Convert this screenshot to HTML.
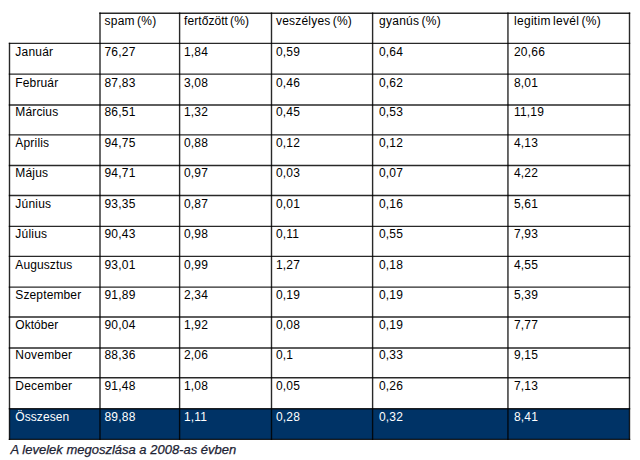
<!DOCTYPE html>
<html><head><meta charset="utf-8"><title>A levelek megoszlása a 2008-as évben</title>
<style>
html,body{margin:0;padding:0;background:#fff}
body{width:640px;height:460px;position:relative;overflow:hidden;font-family:"Liberation Sans",Arial,sans-serif;font-size:12px;color:#000}
svg{position:absolute;left:0;top:0}
.t{position:absolute;line-height:14px;white-space:nowrap}
.w{color:#fff}
.cap{position:absolute;font-style:italic;white-space:nowrap;line-height:16px;color:#1c2233;-webkit-text-stroke:0.25px #1c2233}
</style></head><body>

<svg width="640" height="460" viewBox="0 0 640 460">
<rect x="9.50" y="408.70" width="620.00" height="30.70" fill="#003366"/>
<path d="M99.30 13.30H630.20 M8.80 43.35H630.20 M8.80 74.10H630.20 M8.80 105.00H630.20 M8.80 134.85H630.20 M8.80 165.50H630.20 M8.80 195.50H630.20 M8.80 226.40H630.20 M8.80 256.35H630.20 M8.80 287.15H630.20 M8.80 317.00H630.20 M8.80 348.00H630.20 M8.80 377.80H630.20 M8.80 408.70H630.20 M8.80 439.40H630.20" stroke="#000" stroke-opacity="0.84" stroke-width="1.40" fill="none"/>
<path d="M9.50 42.65V440.10 M100.00 12.60V440.10 M179.60 12.60V440.10 M271.50 12.60V440.10 M372.60 12.60V440.10 M507.95 12.60V440.10 M629.50 12.60V440.10" stroke="#000" stroke-opacity="0.84" stroke-width="1.40" fill="none"/>
</svg>
<div class="t" style="left:104.5px;top:14px;letter-spacing:0.245px;word-spacing:-1.30px">spam (%)</div>
<div class="t" style="left:184px;top:14px;letter-spacing:0.073px;word-spacing:-1.30px">fertőzött (%)</div>
<div class="t" style="left:276px;top:14px;letter-spacing:0.201px;word-spacing:-1.30px">veszélyes (%)</div>
<div class="t" style="left:379px;top:14px;letter-spacing:0.261px;word-spacing:-1.30px">gyanús (%)</div>
<div class="t" style="left:514px;top:14px;letter-spacing:0.289px;word-spacing:-1.30px">legitim levél (%)</div>
<div class="t" style="left:15.3px;top:45px;letter-spacing:0.218px">Január</div>
<div class="t" style="left:104.5px;top:45px;letter-spacing:0.194px">76,27</div>
<div class="t" style="left:184px;top:45px;letter-spacing:0.161px">1,84</div>
<div class="t" style="left:276px;top:45px;letter-spacing:0.161px">0,59</div>
<div class="t" style="left:379px;top:45px;letter-spacing:0.161px">0,64</div>
<div class="t" style="left:514px;top:45px;letter-spacing:0.194px">20,66</div>
<div class="t" style="left:15.3px;top:76px;letter-spacing:0.140px">Február</div>
<div class="t" style="left:104.5px;top:76px;letter-spacing:0.194px">87,83</div>
<div class="t" style="left:184px;top:76px;letter-spacing:0.161px">3,08</div>
<div class="t" style="left:276px;top:76px;letter-spacing:0.161px">0,46</div>
<div class="t" style="left:379px;top:76px;letter-spacing:0.161px">0,62</div>
<div class="t" style="left:514px;top:76px;letter-spacing:0.161px">8,01</div>
<div class="t" style="left:15.3px;top:105px;letter-spacing:0.142px">Március</div>
<div class="t" style="left:104.5px;top:105px;letter-spacing:0.194px">86,51</div>
<div class="t" style="left:184px;top:105px;letter-spacing:0.161px">1,32</div>
<div class="t" style="left:276px;top:105px;letter-spacing:0.161px">0,45</div>
<div class="t" style="left:379px;top:105px;letter-spacing:0.161px">0,53</div>
<div class="t" style="left:514px;top:105px;letter-spacing:0.194px">11,19</div>
<div class="t" style="left:15.3px;top:136px;letter-spacing:0.190px;clip-path:inset(1px 0 0 0)">Április</div>
<div class="t" style="left:104.5px;top:136px;letter-spacing:0.194px">94,75</div>
<div class="t" style="left:184px;top:136px;letter-spacing:0.161px">0,88</div>
<div class="t" style="left:276px;top:136px;letter-spacing:0.161px">0,12</div>
<div class="t" style="left:379px;top:136px;letter-spacing:0.161px">0,12</div>
<div class="t" style="left:514px;top:136px;letter-spacing:0.161px">4,13</div>
<div class="t" style="left:15.3px;top:166px;letter-spacing:0.198px">Május</div>
<div class="t" style="left:104.5px;top:166px;letter-spacing:0.194px">94,71</div>
<div class="t" style="left:184px;top:166px;letter-spacing:0.161px">0,97</div>
<div class="t" style="left:276px;top:166px;letter-spacing:0.161px">0,03</div>
<div class="t" style="left:379px;top:166px;letter-spacing:0.161px">0,07</div>
<div class="t" style="left:514px;top:166px;letter-spacing:0.161px">4,22</div>
<div class="t" style="left:15.3px;top:197px;letter-spacing:0.219px">Június</div>
<div class="t" style="left:104.5px;top:197px;letter-spacing:0.194px">93,35</div>
<div class="t" style="left:184px;top:197px;letter-spacing:0.161px">0,87</div>
<div class="t" style="left:276px;top:197px;letter-spacing:0.161px">0,01</div>
<div class="t" style="left:379px;top:197px;letter-spacing:0.161px">0,16</div>
<div class="t" style="left:514px;top:197px;letter-spacing:0.161px">5,61</div>
<div class="t" style="left:15.3px;top:227px;letter-spacing:0.220px">Július</div>
<div class="t" style="left:104.5px;top:227px;letter-spacing:0.194px">90,43</div>
<div class="t" style="left:184px;top:227px;letter-spacing:0.161px">0,98</div>
<div class="t" style="left:276px;top:227px;letter-spacing:0.161px">0,11</div>
<div class="t" style="left:379px;top:227px;letter-spacing:0.161px">0,55</div>
<div class="t" style="left:514px;top:227px;letter-spacing:0.161px">7,93</div>
<div class="t" style="left:15.3px;top:258px;letter-spacing:0.107px">Augusztus</div>
<div class="t" style="left:104.5px;top:258px;letter-spacing:0.194px">93,01</div>
<div class="t" style="left:184px;top:258px;letter-spacing:0.161px">0,99</div>
<div class="t" style="left:276px;top:258px;letter-spacing:0.161px">1,27</div>
<div class="t" style="left:379px;top:258px;letter-spacing:0.161px">0,18</div>
<div class="t" style="left:514px;top:258px;letter-spacing:0.161px">4,55</div>
<div class="t" style="left:15.3px;top:288px;letter-spacing:0.130px">Szeptember</div>
<div class="t" style="left:104.5px;top:288px;letter-spacing:0.194px">91,89</div>
<div class="t" style="left:184px;top:288px;letter-spacing:0.161px">2,34</div>
<div class="t" style="left:276px;top:288px;letter-spacing:0.161px">0,19</div>
<div class="t" style="left:379px;top:288px;letter-spacing:0.161px">0,19</div>
<div class="t" style="left:514px;top:288px;letter-spacing:0.161px">5,39</div>
<div class="t" style="left:15.3px;top:318px;letter-spacing:0.045px">Október</div>
<div class="t" style="left:104.5px;top:318px;letter-spacing:0.194px">90,04</div>
<div class="t" style="left:184px;top:318px;letter-spacing:0.161px">1,92</div>
<div class="t" style="left:276px;top:318px;letter-spacing:0.161px">0,08</div>
<div class="t" style="left:379px;top:318px;letter-spacing:0.161px">0,19</div>
<div class="t" style="left:514px;top:318px;letter-spacing:0.161px">7,77</div>
<div class="t" style="left:15.3px;top:348px;letter-spacing:0.206px">November</div>
<div class="t" style="left:104.5px;top:348px;letter-spacing:0.194px">88,36</div>
<div class="t" style="left:184px;top:348px;letter-spacing:0.161px">2,06</div>
<div class="t" style="left:276px;top:348px;letter-spacing:0.106px">0,1</div>
<div class="t" style="left:379px;top:348px;letter-spacing:0.161px">0,33</div>
<div class="t" style="left:514px;top:348px;letter-spacing:0.161px">9,15</div>
<div class="t" style="left:15.3px;top:379px;letter-spacing:0.206px">December</div>
<div class="t" style="left:104.5px;top:379px;letter-spacing:0.194px">91,48</div>
<div class="t" style="left:184px;top:379px;letter-spacing:0.161px">1,08</div>
<div class="t" style="left:276px;top:379px;letter-spacing:0.161px">0,05</div>
<div class="t" style="left:379px;top:379px;letter-spacing:0.161px">0,26</div>
<div class="t" style="left:514px;top:379px;letter-spacing:0.161px">7,13</div>
<div class="t w" style="left:15.3px;top:410px;letter-spacing:0.081px">Összesen</div>
<div class="t w" style="left:104.5px;top:410px;letter-spacing:0.194px">89,88</div>
<div class="t w" style="left:184px;top:410px;letter-spacing:0.161px">1,11</div>
<div class="t w" style="left:276px;top:410px;letter-spacing:0.161px">0,28</div>
<div class="t w" style="left:379px;top:410px;letter-spacing:0.161px">0,32</div>
<div class="t w" style="left:514px;top:410px;letter-spacing:0.161px">8,41</div>
<div class="cap" style="left:10.5px;top:442px;font-size:13px">A levelek megoszlása a 2008-as évben</div>
</body></html>
